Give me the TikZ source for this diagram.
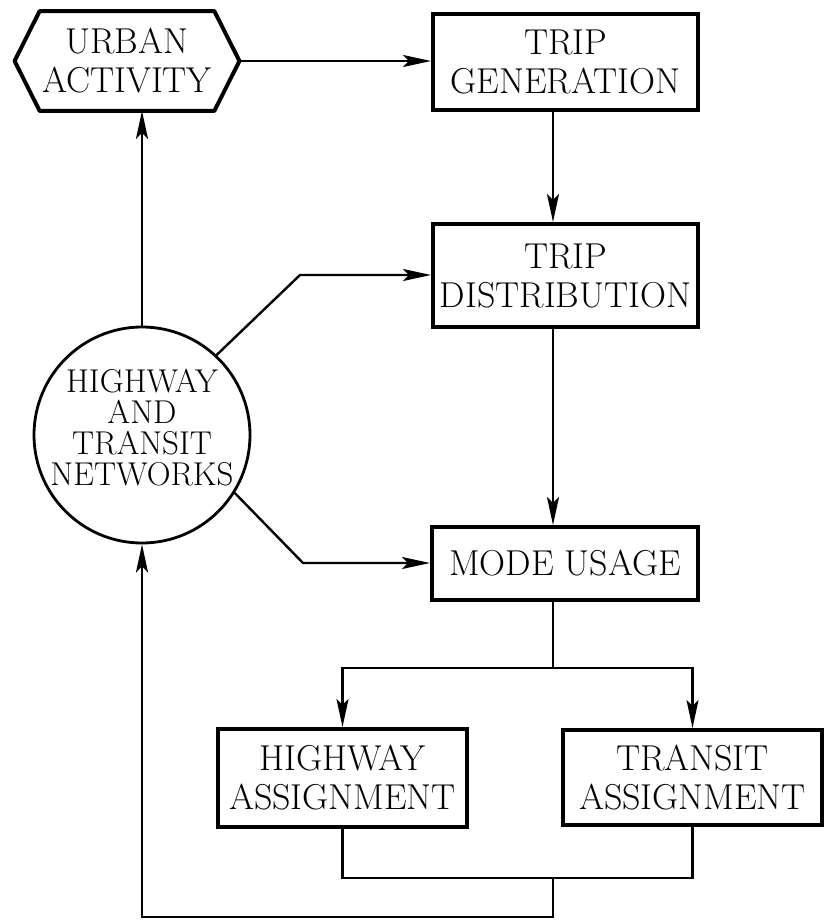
\documentclass[tikz,border=0pt]{standalone}
\usepackage{amssymb,amsmath}
\usetikzlibrary{arrows.meta}

\begin{document}
\begin{tikzpicture}[x=0.5pt, y=-0.5pt,
  every node/.style={font=\fontsize{18}{19.5}\selectfont, align=center},
  stagebox/.style={rectangle, draw, line width=2pt, inner sep=0pt},
  netcircle/.style={circle, draw, line width=1.4pt, minimum size=108pt, inner sep=0pt},
  flow/.style={line width=1.2pt, -{Stealth[length=14pt,width=6pt,inset=3pt]}},
  link/.style={line width=1.2pt}]

  \useasboundingbox (0,0) rectangle (829,921);

  % urban activity, hexagon round a plain node
  \node[minimum width=112pt, minimum height=49.5pt, inner sep=0pt] (urban) at (127,61) {URBAN\\ACTIVITY};
  \draw[line width=2pt, line join=round]
        (urban.west) -- ([xshift=12.5pt]urban.north west) -- ([xshift=-12.5pt]urban.north east)
        -- (urban.east) -- ([xshift=-12.5pt]urban.south east) -- ([xshift=12.5pt]urban.south west) -- cycle;

  % main stages
  \node[stagebox, minimum width=132.5pt, minimum height=48pt] (gen) at (565.5,62) {TRIP\\GENERATION};
  \node[stagebox, minimum width=132.5pt, minimum height=51.5pt] (dist) at (565.5,275.5) {TRIP\\DISTRIBUTION};
  \node[stagebox, minimum width=133pt, minimum height=36.5pt] (mode) at (565,563.5) {MODE USAGE};

  % networks
  \node[netcircle] (net) at (142,435) {};
  \node[font=\fontsize{16.5}{15.5}\selectfont] (netlabel) at (142,428) {HIGHWAY\\AND\\TRANSIT\\NETWORKS};

  % assignment
  \node[stagebox, minimum width=124.5pt, minimum height=49pt] (hwy) at (342.5,778) {HIGHWAY\\ASSIGNMENT};
  \node[stagebox, minimum width=129.5pt, minimum height=47.5pt] (transit) at (692.5,777.5) {TRANSIT\\ASSIGNMENT};

  % bends of the connectors
  \coordinate (spine) at (553,0);
  \coordinate (kneeA) at (300,275);
  \coordinate (kneeB) at (303,563);
  \coordinate (split) at (553,668);
  \coordinate (join) at (553,878);
  \coordinate (loop) at (553,917);

  \draw[flow] (urban.east) -- (urban.east -| gen.west);
  \draw[flow] (gen.south -| spine) -- (dist.north -| spine);
  \draw[flow] (dist.south -| spine) -- (mode.north -| spine);
  \draw[flow] (net.north) -- (net.north |- urban.south);
  \draw[flow] (net.47) -- (kneeA) -- (kneeA -| dist.west);
  \draw[flow] (net.-32) -- (kneeB) -- (kneeB -| mode.west);

  % split and feedback loop
  \draw[link] (mode.south -| spine) -- (split);
  \draw[flow] (split) -| (hwy.north);
  \draw[flow] (split) -| (transit.north);
  \draw[link] (hwy.south) |- (join);
  \draw[link] (transit.south) |- (join);
  \draw[flow] (join) -- (loop) -| (net.south);

\end{tikzpicture}
\end{document}
